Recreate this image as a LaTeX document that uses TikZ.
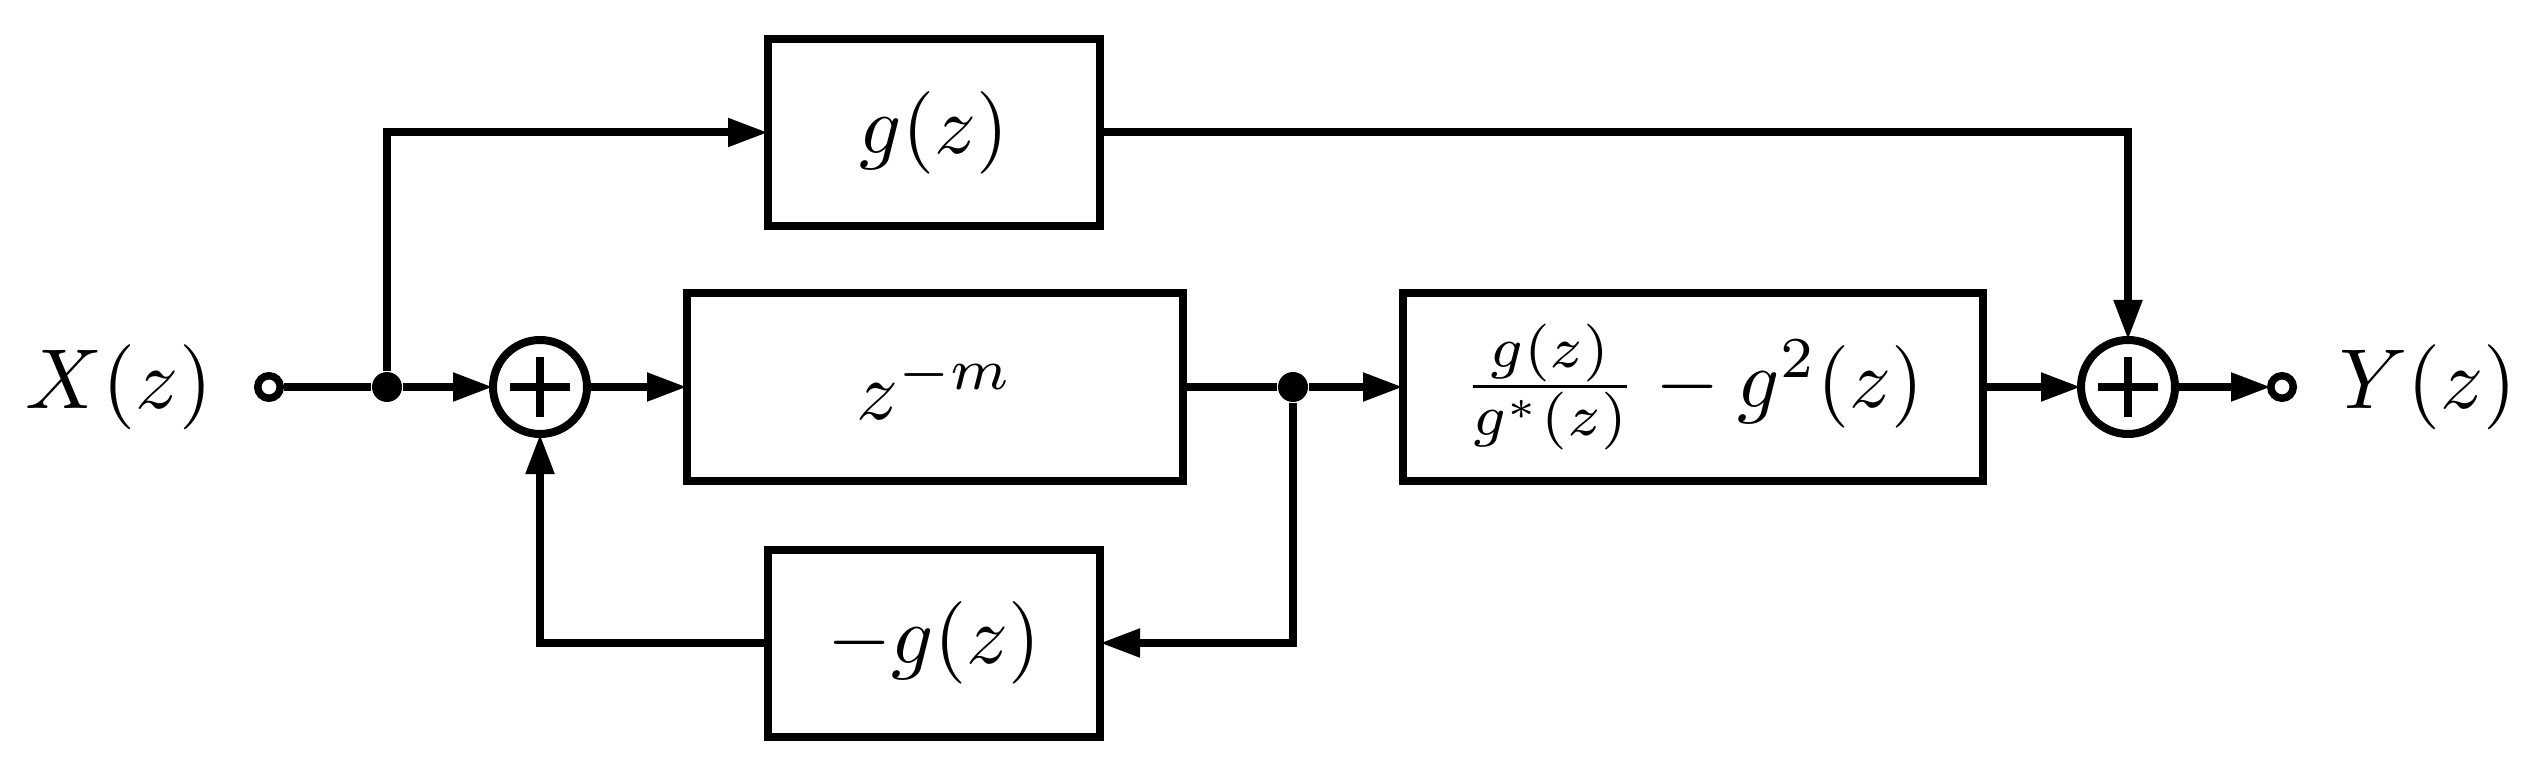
\documentclass[tikz,border=0pt]{standalone}
\usepackage{amsmath}
\usepackage{graphicx}
\usetikzlibrary{arrows.meta}

\newcommand{\bigmath}[1]{\scalebox{2.35}{$#1$}}
\newcommand{\portmath}[1]{\scalebox{2.42}{$#1$}}

\tikzset{
  wire/.style={line width=0.8mm},
  flow/.style={wire,shorten >=-0.4mm,-{Triangle[length=4mm,width=2.7mm]}},
  blockbox/.style={draw,line width=0.8mm,rectangle,inner sep=0pt,minimum height=1.87cm},
  sumnode/.style={draw,line width=0.8mm,circle,inner sep=0pt,minimum size=0.94cm,
    path picture={
      \draw[line width=0.85mm] (path picture bounding box.center) ++(-0.3,0) -- ++(0.6,0);
      \draw[line width=0.85mm] (path picture bounding box.center) ++(0,-0.3) -- ++(0,0.6);
    }},
  joint/.style={circle,fill=black,inner sep=0pt,minimum size=0.3cm},
  terminal/.style={draw,line width=0.75mm,circle,fill=white,inner sep=0pt,minimum size=0.225cm}
}

\begin{document}
\begin{tikzpicture}
    \useasboundingbox (0,0) rectangle (25.41,7.82);

    % signals at both ends
    \node (xin) at (1.19,3.95) {\portmath{X(z)}};
    \node (yout) at (24.28,3.95) {\portmath{Y(z)}};
    \node[terminal] (inp) at (2.69,3.95) {};
    \node[terminal] (outp) at (22.82,3.95) {};

    % blocks
    \node[blockbox,minimum width=3.32cm] (gbox) at (9.34,6.495) {\bigmath{g(z)}};
    \node[blockbox,minimum width=4.96cm] (delay) at (9.35,3.95) {\bigmath{z^{-m}}};
    \node[blockbox,minimum width=5.80cm] (shaper) at (16.93,3.95) {\bigmath{\frac{g(z)}{g^*(z)}-g^2(z)}};
    \node[blockbox,minimum width=3.32cm] (negbox) at (9.34,1.39) {\bigmath{-g(z)}};

    % adders and branch points
    \node[sumnode] (suma) at (5.40,3.95) {};
    \node[sumnode] (sumb) at (21.28,3.95) {};
    \node[joint] (dota) at (3.87,3.95) {};
    \node[joint] (dotb) at (12.93,3.95) {};

    % main path
    \draw[wire] (inp) -- (dota);
    \draw[flow] (dota) -- (suma);
    \draw[flow] (suma) -- (delay);
    \draw[wire] (delay) -- (dotb);
    \draw[flow] (dotb) -- (shaper);
    \draw[flow] (shaper) -- (sumb);
    \draw[flow] (sumb) -- (outp);

    % upper branch
    \draw[flow] (dota) |- (gbox);
    \draw[flow] (gbox) -| (sumb);

    % feedback
    \draw[flow] (dotb) |- (negbox);
    \draw[flow] (negbox) -| (suma);
\end{tikzpicture}
\end{document}
